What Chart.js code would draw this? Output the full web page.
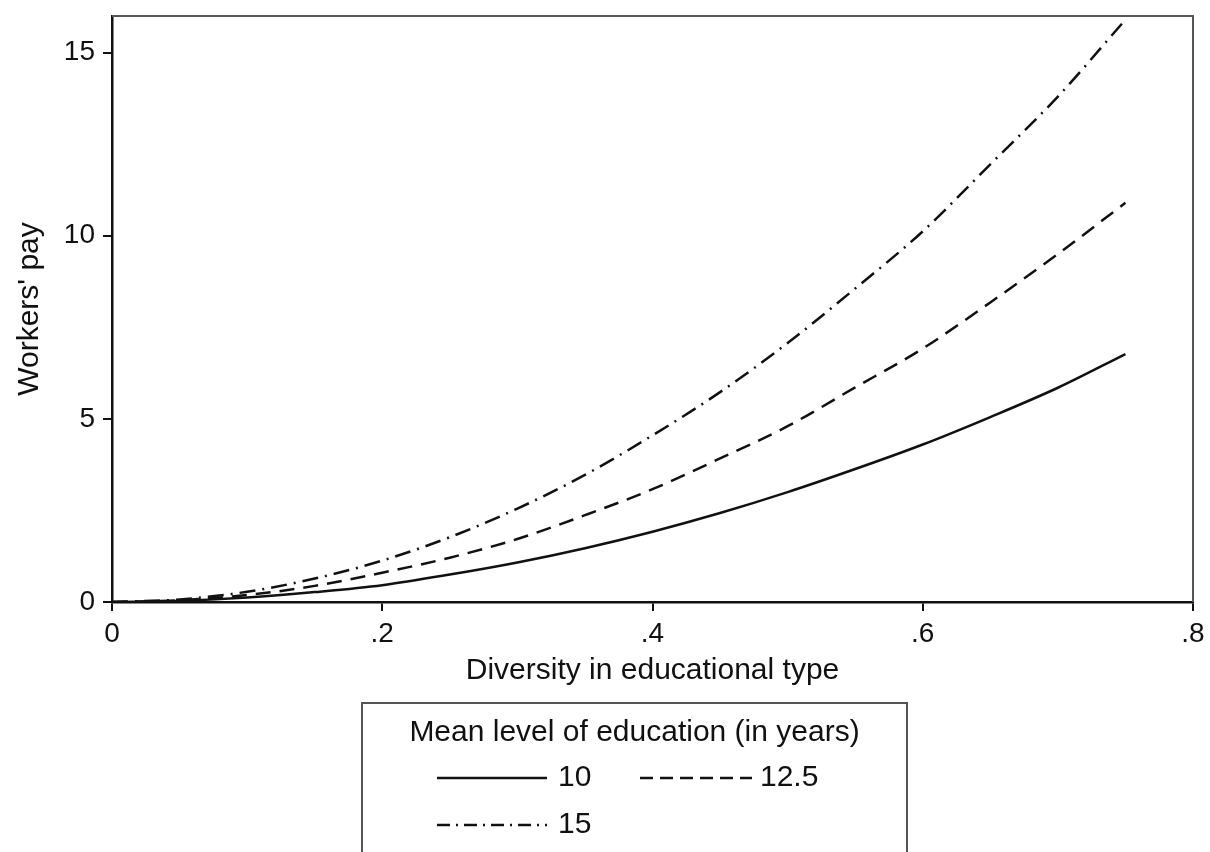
<!DOCTYPE html>
<html>
<head>
<meta charset="utf-8">
<script src="https://cdn.jsdelivr.net/npm/chart.js@4/dist/chart.umd.min.js"></script>
<style>
  html, body { margin: 0; padding: 0; background: #fff; }
  #wrap { position: relative; width: 1210px; height: 852px; }
</style>
</head>
<body>
<div id="wrap"><canvas id="c" width="1210" height="852"></canvas></div>
<script>
// ---- data ----
const diversity = [0, 0.05, 0.10, 0.15, 0.20, 0.25, 0.30, 0.35, 0.40, 0.45, 0.50, 0.55, 0.60, 0.65, 0.70, 0.75];
const pay10   = [0, 0.03, 0.12, 0.27, 0.46, 0.75, 1.08, 1.47, 1.92, 2.43, 3.00, 3.63, 4.30, 5.05, 5.85, 6.77];
const pay12_5 = [0, 0.05, 0.19, 0.44, 0.80, 1.21, 1.72, 2.37, 3.08, 3.92, 4.80, 5.86, 6.92, 8.18, 9.50, 10.90];
const pay15   = [0, 0.07, 0.28, 0.64, 1.13, 1.77, 2.55, 3.47, 4.55, 5.73, 7.07, 8.56, 10.12, 11.95, 13.80, 15.90];
const seriesLabels = ['10', '12.5', '15'];
const xTickValues = [0, 0.2, 0.4, 0.6, 0.8];
const xTickLabels = ['0', '.2', '.4', '.6', '.8'];
const yTickValues = [0, 5, 10, 15];
const yTickLabels = ['0', '5', '10', '15'];
const xTitle = 'Diversity in educational type';
const yTitle = "Workers' pay";
const legendTitle = 'Mean level of education (in years)';

const FONT = "'Liberation Sans', Arial, Helvetica, sans-serif";
const TXT = '#111';

function pts(ys) { return diversity.map((x, i) => ({ x: x, y: ys[i] })); }

const dashes = [[], [15, 9], [16, 7, 2, 7]];
const legendDashes = [[], [13, 7], [13, 6, 2, 6]];

const legendPlugin = {
  id: 'boxLegend',
  afterDraw(chart) {
    const ctx = chart.ctx;
    const a = chart.chartArea;
    ctx.save();
    // top / right frame of the plot region
    ctx.strokeStyle = '#555';
    ctx.lineWidth = 2;
    ctx.beginPath();
    ctx.moveTo(a.left, a.top);
    ctx.lineTo(a.right, a.top);
    ctx.lineTo(a.right, a.bottom);
    ctx.stroke();

    // legend box
    const bx = 362, by = 703, bw = 545, bh = 170;
    ctx.strokeStyle = '#555';
    ctx.lineWidth = 2;
    ctx.strokeRect(bx, by, bw, bh);
    ctx.fillStyle = TXT;
    ctx.font = '30px ' + FONT;
    ctx.textBaseline = 'middle';
    ctx.textAlign = 'center';
    ctx.fillText(legendTitle, bx + bw / 2, 733);

    const items = [
      { x0: 437, x1: 547, tx: 558, y: 778 },
      { x0: 640, x1: 752, tx: 760, y: 778 },
      { x0: 437, x1: 547, tx: 558, y: 825 }
    ];
    ctx.textAlign = 'left';
    chart.data.datasets.forEach((ds, i) => {
      const it = items[i];
      ctx.strokeStyle = ds.borderColor;
      ctx.lineWidth = 2.5;
      ctx.setLineDash(legendDashes[i]);
      ctx.beginPath();
      ctx.moveTo(it.x0, it.y);
      ctx.lineTo(it.x1, it.y);
      ctx.stroke();
      ctx.setLineDash([]);
      ctx.fillText(ds.label, it.tx, it.y);
    });
    ctx.restore();
  }
};

const datasets = [pay10, pay12_5, pay15].map((ys, i) => ({
  label: seriesLabels[i],
  data: pts(ys),
  borderColor: '#111',
  borderWidth: 2.5,
  borderDash: dashes[i],
  pointRadius: 0,
  fill: false,
  tension: 0.4,
  cubicInterpolationMode: 'monotone'
}));

new Chart(document.getElementById('c'), {
  type: 'line',
  data: { datasets: datasets },
  options: {
    responsive: false,
    animation: false,
    devicePixelRatio: 1,
    layout: { padding: { left: 0, top: 16, right: 17, bottom: 162 } },
    plugins: { legend: { display: false }, tooltip: { enabled: false } },
    scales: {
      x: {
        type: 'linear',
        min: 0, max: 0.8,
        afterBuildTicks(s) { s.ticks = xTickValues.map(v => ({ value: v })); },
        afterFit(s) { s.height = 88; s.paddingLeft = 0; s.paddingRight = 0; },
        ticks: {
          autoSkip: false,
          maxRotation: 0,
          padding: 6,
          color: TXT,
          font: { family: FONT, size: 28 },
          callback(v) { const k = xTickValues.indexOf(v); return k >= 0 ? xTickLabels[k] : ''; }
        },
        grid: { display: true, drawOnChartArea: false, drawTicks: true, tickLength: 9, color: '#111', lineWidth: 2 },
        border: { display: true, color: '#111', width: 2.5 },
        title: { display: true, text: xTitle, color: TXT, font: { family: FONT, size: 30 }, padding: { top: 0, bottom: 1 } }
      },
      y: {
        type: 'linear',
        min: 0, max: 16,
        afterBuildTicks(s) { s.ticks = yTickValues.map(v => ({ value: v })); },
        afterFit(s) { s.width = 112; s.paddingTop = 0; s.paddingBottom = 0; },
        ticks: {
          autoSkip: false,
          padding: 8,
          color: TXT,
          font: { family: FONT, size: 28 },
          callback(v) { const k = yTickValues.indexOf(v); return k >= 0 ? yTickLabels[k] : ''; }
        },
        grid: { display: true, drawOnChartArea: false, drawTicks: true, tickLength: 9, color: '#111', lineWidth: 2 },
        border: { display: true, color: '#111', width: 2.5 },
        title: { display: true, text: yTitle, color: TXT, font: { family: FONT, size: 30 }, padding: { top: 12, bottom: 0 } }
      }
    }
  },
  plugins: [legendPlugin]
});
</script>
</body>
</html>
